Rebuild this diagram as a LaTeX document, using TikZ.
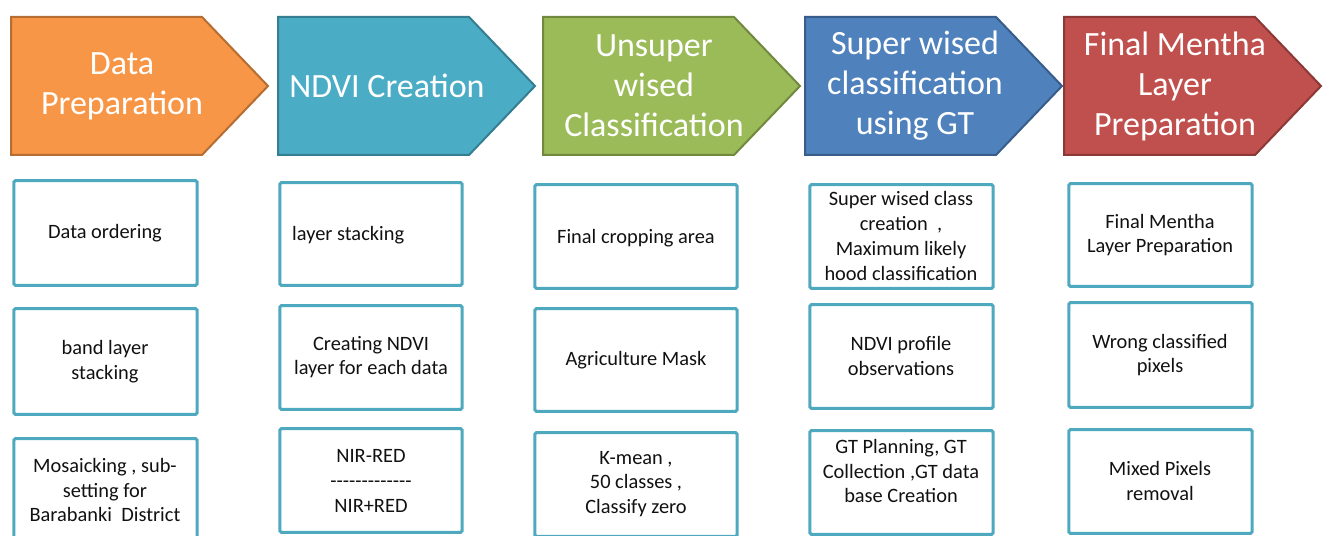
\documentclass[tikz,border=0pt]{standalone}
\usepackage{fontspec}
\setmainfont{Carlito}
\definecolor{orF}{HTML}{F79646}\definecolor{orD}{HTML}{B66D31}
\definecolor{tqF}{HTML}{4BACC6}\definecolor{tqD}{HTML}{357D91}
\definecolor{grF}{HTML}{9BBB59}\definecolor{grD}{HTML}{71893F}
\definecolor{blF}{HTML}{4F81BD}\definecolor{blD}{HTML}{385D8A}
\definecolor{rdF}{HTML}{C0504D}\definecolor{rdD}{HTML}{8C3836}
\definecolor{boxC}{HTML}{4EA9BE}
\definecolor{txtC}{HTML}{111111}
\newcommand\hy{-\kern0pt}
\begin{document}
\begin{tikzpicture}[x=1bp,y=-1bp,
  chev/.style={line width=2bp,line join=miter},
  ctext/.style={text=white,align=center,font=\fontsize{34bp}{40bp}\selectfont,inner sep=0pt},
  box/.style={draw=boxC,line width=3bp,rounded corners=1.5bp,fill=white,inner sep=0pt},
  btext/.style={text=txtC,align=center,font=\fontsize{20.4bp}{24.8bp}\selectfont,inner sep=0pt}]
\clip (0,0) rectangle (1325,536);
\fill[white] (0,0) rectangle (1325,536);
% chevrons
\newcommand\mychev[3]{\draw[chev,fill=#2,draw=#3] (#1,17) -- ++(191,0) -- ++(66,69) -- ++(-66,69) -- ++(-191,0) -- cycle;}
\mychev{11}{orF}{orD}
\mychev{278}{tqF}{tqD}
\mychev{543}{grF}{grD}
\mychev{805}{blF}{blD}
\mychev{1064}{rdF}{rdD}
\node[ctext] (h1) at (122,86) {Data\\Preparation};
\node[ctext] (h2) at (387,86) {NDVI Creation};
\node[ctext] (h3) at (654,86) {Unsuper\\wised\\Classification};
\node[ctext] (h4) at (915,86) {Super wised\\classification\\using GT};
\node[ctext] (h5) at (1175,86) {Final Mentha\\Layer\\Preparation};
% boxes: centre = middle of outer edges, size = outer - line width
\newcommand\mybox[5]{\node[box,minimum width={#4-#2-3bp},minimum height={#5-#3-3bp}] (#1) at ({(#2+#4)/2},{(#3+#5)/2}) {};}
\mybox{b11}{12}{179}{199}{287}
\mybox{b12}{12}{307}{199}{416}
\mybox{b13}{12}{437}{199}{544}
\mybox{b21}{278}{181}{464}{287}
\mybox{b22}{278}{304}{464}{411}
\mybox{b23}{278}{427}{464}{534}
\mybox{b31}{533}{183}{739}{290}
\mybox{b32}{533}{307}{739}{413}
\mybox{b33}{533}{431}{739}{538}
\mybox{b41}{808}{183}{995}{290}
\mybox{b42}{808}{303}{995}{410}
\mybox{b43}{808}{429}{995}{536}
\mybox{b51}{1067}{182}{1254}{288}
\mybox{b52}{1067}{301}{1254}{409}
\mybox{b53}{1067}{428}{1254}{535}
% box texts
\node[btext] (t11) at (105,233) {Data ordering};
\node[btext] (t12) at (105,362) {band layer\\stacking};
\node[btext] (t13) at (105,490) {Mosaicking , sub-\\setting for\\Barabanki\ \ District};
\node[btext,anchor=west] (t21) at (292,235) {layer stacking};
\node[btext] (t22) at (371,357) {Creating NDVI\\layer for each data};
\node[btext] (t23) at (371,481) {NIR-RED\\\hy\hy\hy\hy\hy\hy\hy\hy\hy\hy\hy\hy-\\NIR+RED};
\node[btext] (t31) at (636,238) {Final cropping area};
\node[btext] (t32) at (636,360) {Agriculture Mask};
\node[btext] (t33) at (636,484) {K-mean ,\\50 classes ,\\Classify zero};
\node[btext] (t41) at (901,236) {Super wised class\\creation\ \ ,\\Maximum likely\\hood classification};
\node[btext] (t42) at (901,356) {NDVI profile\\observations};
\node[btext] (t43) at (901,471) {GT Planning, GT\\Collection ,GT data\\base Creation};
\node[btext] (t51) at (1160,235) {Final Mentha\\Layer Preparation};
\node[btext] (t52) at (1160,355) {Wrong classified\\pixels};
\node[btext] (t53) at (1160,481) {Mixed Pixels\\removal};
\end{tikzpicture}
\end{document}
